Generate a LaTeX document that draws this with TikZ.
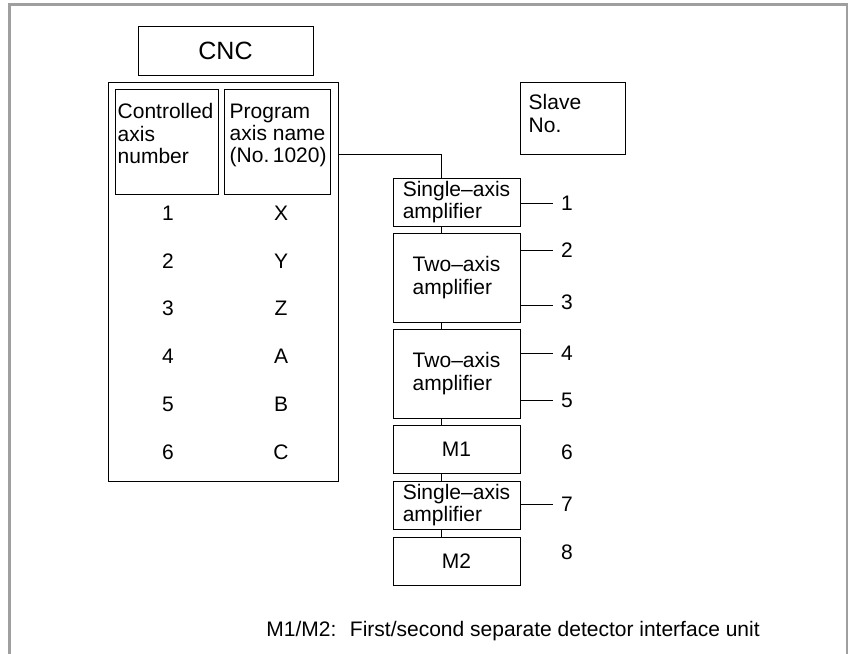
\documentclass[tikz,border=0pt]{standalone}
\usepackage{fontspec}
\setmainfont{Liberation Sans}
\usetikzlibrary{positioning}

\begin{document}
\begin{tikzpicture}[
  x=1pt,y=-1pt,
  every node/.style={font=\fontsize{21}{22.3}\selectfont},
  box/.style={draw,line width=1pt,inner sep=0pt,align=left},
  amp/.style={box,minimum width=127pt},
  txt/.style={inner sep=0pt,align=left},
  wire/.style={line width=1pt},
  frame/.style={line width=3pt,draw=gray!75}
]
  \useasboundingbox (0,0) rectangle (848,653);

  % Outer frame
  \draw[frame] (9,660) -- (9,4) -- (847,4) -- (847,660);

  % CNC header box
  \node[box,minimum width=175pt,minimum height=49pt,
        font=\fontsize{25}{26}\selectfont] (head) at (225.5,50.5) {CNC};

  % CNC body box
  \node[box,minimum width=230pt,minimum height=399pt] (cnc) at (223,281.5) {};

  % Column headings
  \node[box,minimum width=103pt,minimum height=105pt] (ctl) at (166.5,141.5) {};
  \node[box,minimum width=106pt,minimum height=105pt] (prog) at (277,141.5) {};
  \node[txt,anchor=north west] (ctltext) at ([shift={(3,15)}]ctl.north west)
    {Controlled\\axis\\number};
  \node[txt,anchor=north west] (progtext) at ([shift={(6,15)}]prog.north west)
    {Program\\axis name\\(No.\,1020)};

  % Axis table
  \foreach \num/\name [count=\i from 0] in {1/X,2/Y,3/Z,4/A,5/B,6/C} {
    \node[txt] (num\num) at (168,213+47.8*\i) {\num};
    \node[txt] (name\num) at (281,213+47.8*\i) {\name};
  }

  % Slave No. box
  \node[box,minimum width=105pt,minimum height=72pt] (slave) at (572.5,118) {};
  \node[txt,anchor=north west] (slavetext) at ([shift={(9,13)}]slave.north west)
    {Slave\\No.};

  % Amplifier chain
  \node[amp,minimum height=48pt] (amp1) at (456.5,202) {Single–axis\\amplifier};
  \node[amp,minimum height=89pt] (amp2) at (456.5,277.5) {Two–axis\\amplifier};
  \node[amp,minimum height=89pt] (amp3) at (456.5,373.5) {Two–axis\\amplifier};
  \node[amp,minimum height=48pt] (m1) at (456.5,449) {M1};
  \node[amp,minimum height=48pt] (amp4) at (456.5,505) {Single–axis\\amplifier};
  \node[amp,minimum height=48pt] (m2) at (456.5,561) {M2};

  % Link from CNC
  \coordinate (bend) at (441,154);
  \draw[wire] (cnc.east |- bend) -- (bend) -- (amp1.north -| bend);
  \foreach \a/\b in {amp1/amp2,amp2/amp3,amp3/m1,m1/amp4,amp4/m2}
    \draw[wire] (\a.south -| bend) -- (\b.north -| bend);

  % Slave numbers
  \node[txt] (s1) at (567,203) {1};
  \node[txt] (s2) at (567,250) {2};
  \node[txt] (s3) at (567,302) {3};
  \node[txt] (s4) at (567,353) {4};
  \node[txt] (s5) at (567,400) {5};
  \node[txt] (s6) at (567,452) {6};
  \node[txt] (s7) at (567,504) {7};
  \node[txt] (s8) at (567,552) {8};
  \draw[wire] (s1.west -| amp1.east) -- ([xshift=-8pt]s1.west);
  \draw[wire] (s2.west -| amp2.east) -- ([xshift=-8pt]s2.west);
  \draw[wire] ([yshift=-3pt]s3.west -| amp2.east) -- ([xshift=-8pt,yshift=-3pt]s3.west);
  \draw[wire] (s4.west -| amp3.east) -- ([xshift=-8pt]s4.west);
  \draw[wire] (s5.west -| amp3.east) -- ([xshift=-8pt]s5.west);
  \draw[wire] (s7.west -| amp4.east) -- ([xshift=-8pt]s7.west);

  % Footnote
  \node[txt] (note) at (513,631)
    {M1/M2:~ First/second separate detector interface unit};
\end{tikzpicture}
\end{document}
